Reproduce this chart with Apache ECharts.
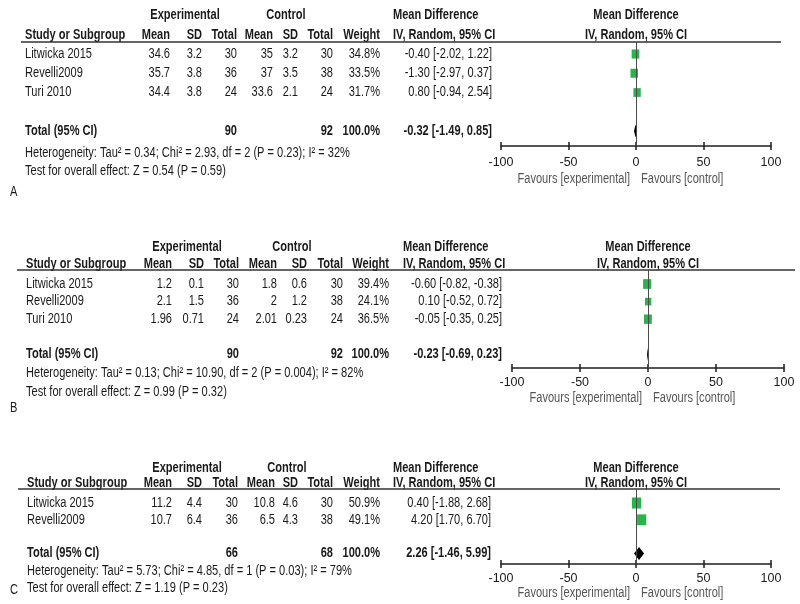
<!DOCTYPE html>
<html>
<head>
<meta charset="utf-8">
<script src="https://cdn.jsdelivr.net/npm/echarts@6/dist/echarts.min.js"></script>
<style>
  html, body { margin: 0; padding: 0; background: #fff; }
  #main { width: 800px; height: 604px; }
</style>
</head>
<body>
<div id="main"></div>
<script>
// data, one entry per panel (A, B, C)
const panelLetters = ['A', 'B', 'C'];
const studyNames = [
  ['Litwicka 2015', 'Revelli2009', 'Turi 2010'],
  ['Litwicka 2015', 'Revelli2009', 'Turi 2010'],
  ['Litwicka 2015', 'Revelli2009']
];
const expMean = [['34.6', '35.7', '34.4'], ['1.2', '2.1', '1.96'], ['11.2', '10.7']];
const expSD = [['3.2', '3.8', '3.8'], ['0.1', '1.5', '0.71'], ['4.4', '6.4']];
const expTotal = [[30, 36, 24], [30, 36, 24], [30, 36]];
const ctlMean = [['35', '37', '33.6'], ['1.8', '2', '2.01'], ['10.8', '6.5']];
const ctlSD = [['3.2', '3.5', '2.1'], ['0.6', '1.2', '0.23'], ['4.6', '4.3']];
const ctlTotal = [[30, 38, 24], [30, 38, 24], [30, 38]];
const weights = [[34.8, 33.5, 31.7], [39.4, 24.1, 36.5], [50.9, 49.1]];
const meanDiff = [[-0.40, -1.30, 0.80], [-0.60, 0.10, -0.05], [0.40, 4.20]];
const ciLow = [[-2.02, -2.97, -0.94], [-0.82, -0.52, -0.35], [-1.88, 1.70]];
const ciHigh = [[1.22, 0.37, 2.54], [-0.38, 0.72, 0.25], [2.68, 6.70]];
const totalExp = [90, 90, 66];
const totalCtl = [92, 92, 68];
const pooledDiff = [-0.32, -0.23, 2.26];
const pooledLow = [-1.49, -0.69, -1.46];
const pooledHigh = [0.85, 0.23, 5.99];
const heterogeneity = [
  'Heterogeneity: Tau² = 0.34; Chi² = 2.93, df = 2 (P = 0.23); I² = 32%',
  'Heterogeneity: Tau² = 0.13; Chi² = 10.90, df = 2 (P = 0.004); I² = 82%',
  'Heterogeneity: Tau² = 5.73; Chi² = 4.85, df = 1 (P = 0.03); I² = 79%'
];
const overallEffect = [
  'Test for overall effect: Z = 0.54 (P = 0.59)',
  'Test for overall effect: Z = 0.99 (P = 0.32)',
  'Test for overall effect: Z = 1.19 (P = 0.23)'
];
const axisTicks = [-100, -50, 0, 50, 100];

// layout of each panel (pixels)
const layout = [
  { lineY: 42, axisY: 146, firstRow: 54, step: 19.25, h1: 15, h2: 35, het: 153, test: 171, fav: 179, letterY: 192,
    line: [21, 781], plot: [501, 771], labelMargin: 10,
    x: { study: 25, mean: 170, sd: 202, n: 237, cmean: 273, csd: 298, cn: 333, w: 380, ci: 492, md: 393, exp: 185, ctl: 286 } },
  { lineY: 270, axisY: 368, firstRow: 284, step: 17.6, h1: 247, h2: 264, het: 373, test: 392, fav: 398, letterY: 408,
    line: [17, 795], plot: [512, 784], labelMargin: 8,
    x: { study: 26, mean: 172, sd: 204, n: 239, cmean: 277, csd: 307, cn: 343, w: 389, ci: 502, md: 403, exp: 187, ctl: 292 } },
  { lineY: 489, axisY: 564, firstRow: 503, step: 16.8, h1: 468, h2: 483, het: 571, test: 588, fav: 593, letterY: 590,
    line: [18, 780], plot: [501, 771], labelMargin: 8,
    x: { study: 27, mean: 172, sd: 202, n: 238, cmean: 275, csd: 298, cn: 333, w: 380, ci: 491, md: 393, exp: 187, ctl: 287 } }
];

const FONT = 'Liberation Sans';
const INK = '#1a1a1a';
const GREEN = '#27b44b';

const chart = echarts.init(document.getElementById('main'));

const fmt = v => v.toFixed(2);
const ciText = (m, lo, hi) => fmt(m) + ' [' + fmt(lo) + ', ' + fmt(hi) + ']';

function label(x, y, text, align, bold, color) {
  return {
    type: 'text', x: x, y: y, scaleX: 0.79, silent: true,
    style: {
      text: text, textAlign: align || 'left', textVerticalAlign: 'middle',
      fontFamily: FONT, fontSize: 14, fontWeight: bold ? 'bold' : 'normal', fill: color || INK
    }
  };
}

const grids = [], xAxes = [], yAxes = [], series = [];

layout.forEach((L, i) => {
  const n = studyNames[i].length;
  grids.push({ left: L.plot[0], width: L.plot[1] - L.plot[0], top: L.lineY, height: L.axisY - L.lineY, outerBoundsMode: 'none' });
  const baseX = {
    gridIndex: i, type: 'value', position: 'bottom',
    min: axisTicks[0], max: axisTicks[axisTicks.length - 1], interval: axisTicks[1] - axisTicks[0],
    splitLine: { show: false }
  };
  // ticks below the line, with labels
  xAxes.push(Object.assign({}, baseX, {
    axisLine: { onZero: false, lineStyle: { color: '#1e1e1e', width: 1.5 } },
    axisTick: { length: 4, lineStyle: { color: '#1e1e1e', width: 1.5 } },
    axisLabel: { fontFamily: FONT, fontSize: 12.5, color: '#1a1a1a', margin: L.labelMargin }
  }));
  // ticks above the line
  xAxes.push(Object.assign({}, baseX, {
    axisLine: { show: false, onZero: false },
    axisTick: { inside: true, length: 4, lineStyle: { color: '#1e1e1e', width: 1.5 } },
    axisLabel: { show: false }
  }));
  yAxes.push({
    gridIndex: i, type: 'value', inverse: true, show: false,
    min: -(L.firstRow - L.lineY) / L.step,
    max: (L.axisY - L.firstRow) / L.step
  });

  series.push({
    type: 'custom', xAxisIndex: i * 2, yAxisIndex: i, silent: true,
    data: studyNames[i].map((_, j) => [ciLow[i][j], ciHigh[i][j], j]),
    encode: { x: [0, 1], y: 2 },
    renderItem: (params, api) => {
      const a = api.coord([api.value(0), api.value(2)]);
      const b = api.coord([api.value(1), api.value(2)]);
      return { type: 'line', shape: { x1: a[0], y1: a[1], x2: b[0], y2: b[1] }, style: { stroke: '#111', lineWidth: 1 } };
    }
  });
  series.push({
    type: 'scatter', xAxisIndex: i * 2, yAxisIndex: i, silent: true,
    symbol: 'rect',
    symbolSize: v => [1.3 * Math.sqrt(v[2]), 1.55 * Math.sqrt(v[2])],
    itemStyle: { color: GREEN, opacity: 1 },
    data: studyNames[i].map((_, j) => [meanDiff[i][j], j, weights[i][j]]),
    markLine: {
      silent: true, symbol: 'none', label: { show: false },
      lineStyle: { color: '#4a4a4a', width: 1, type: 'solid' },
      data: [{ xAxis: 0 }]
    },
    z: 3
  });
  series.push({
    type: 'custom', xAxisIndex: i * 2, yAxisIndex: i, silent: true,
    data: [[pooledLow[i], pooledDiff[i], pooledHigh[i], n + 1]],
    encode: { x: [0, 1, 2], y: 3 },
    renderItem: (params, api) => {
      const row = api.value(3);
      const lo = api.coord([api.value(0), row]);
      const md = api.coord([api.value(1), row]);
      const hi = api.coord([api.value(2), row]);
      return {
        type: 'polygon',
        shape: { points: [[lo[0], lo[1]], [md[0], md[1] - 6.5], [hi[0], hi[1]], [md[0], md[1] + 6.5]] },
        style: { fill: '#000' }
      };
    },
    z: 4
  });
});

chart.setOption({
  animation: false,
  backgroundColor: '#fff',
  grid: grids,
  xAxis: xAxes,
  yAxis: yAxes,
  series: series
});

// table text, placed after the axes so the plot headers can follow the zero line
const graphics = [];
layout.forEach((L, i) => {
  const X = L.x;
  const x0 = chart.convertToPixel({ xAxisIndex: i * 2 }, 0);
  const n = studyNames[i].length;
  const rowY = j => L.firstRow + j * L.step;

  graphics.push(label(X.exp, L.h1, 'Experimental', 'center', true));
  graphics.push(label(X.ctl, L.h1, 'Control', 'center', true));
  graphics.push(label(X.md, L.h1, 'Mean Difference', 'left', true));
  graphics.push(label(x0, L.h1, 'Mean Difference', 'center', true));

  graphics.push(label(X.study, L.h2, 'Study or Subgroup', 'left', true));
  graphics.push(label(X.mean, L.h2, 'Mean', 'right', true));
  graphics.push(label(X.sd, L.h2, 'SD', 'right', true));
  graphics.push(label(X.n, L.h2, 'Total', 'right', true));
  graphics.push(label(X.cmean, L.h2, 'Mean', 'right', true));
  graphics.push(label(X.csd, L.h2, 'SD', 'right', true));
  graphics.push(label(X.cn, L.h2, 'Total', 'right', true));
  graphics.push(label(X.w, L.h2, 'Weight', 'right', true));
  graphics.push(label(X.md, L.h2, 'IV, Random, 95% CI', 'left', true));
  graphics.push(label(x0, L.h2, 'IV, Random, 95% CI', 'center', true));

  graphics.push({
    type: 'line', silent: true,
    shape: { x1: L.line[0], y1: L.lineY, x2: L.line[1], y2: L.lineY },
    style: { stroke: '#333', lineWidth: 1.5 }
  });

  studyNames[i].forEach((name, j) => {
    const y = rowY(j);
    graphics.push(label(X.study, y, name, 'left'));
    graphics.push(label(X.mean, y, expMean[i][j], 'right'));
    graphics.push(label(X.sd, y, expSD[i][j], 'right'));
    graphics.push(label(X.n, y, String(expTotal[i][j]), 'right'));
    graphics.push(label(X.cmean, y, ctlMean[i][j], 'right'));
    graphics.push(label(X.csd, y, ctlSD[i][j], 'right'));
    graphics.push(label(X.cn, y, String(ctlTotal[i][j]), 'right'));
    graphics.push(label(X.w, y, weights[i][j].toFixed(1) + '%', 'right'));
    graphics.push(label(X.ci, y, ciText(meanDiff[i][j], ciLow[i][j], ciHigh[i][j]), 'right'));
  });

  const ty = rowY(n + 1);
  graphics.push(label(X.study, ty, 'Total (95% CI)', 'left', true));
  graphics.push(label(X.n, ty, String(totalExp[i]), 'right', true));
  graphics.push(label(X.cn, ty, String(totalCtl[i]), 'right', true));
  graphics.push(label(X.w, ty, '100.0%', 'right', true));
  graphics.push(label(X.ci, ty, ciText(pooledDiff[i], pooledLow[i], pooledHigh[i]), 'right', true));

  graphics.push(label(X.study, L.het, heterogeneity[i], 'left'));
  graphics.push(label(X.study, L.test, overallEffect[i], 'left'));

  graphics.push(label(x0 - 6, L.fav, 'Favours [experimental]', 'right', false, '#555'));
  graphics.push(label(x0 + 5, L.fav, 'Favours [control]', 'left', false, '#555'));

  graphics.push(label(10, L.letterY, panelLetters[i], 'left'));
});

chart.setOption({ graphic: graphics });

window.addEventListener('resize', () => {
  chart.resize();
});
</script>
</body>
</html>
